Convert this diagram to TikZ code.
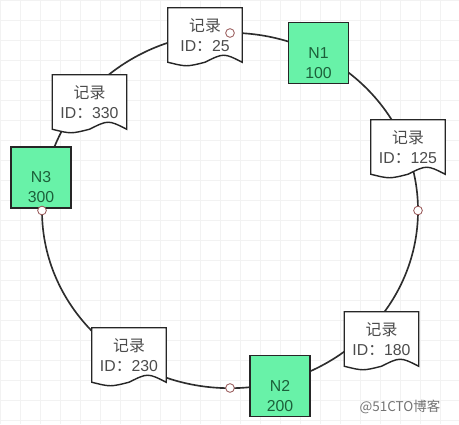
\documentclass[tikz,border=0pt]{standalone}
\usepackage{fontspec}
\newfontfamily\cjk{Noto Sans CJK SC}
\newfontfamily\latin{Liberation Sans}
\newcommand{\rectext}[1]{{\cjk 记录}\\ID{\cjk ：}#1}
\pgfdeclarelayer{background}
\pgfsetlayers{background,main}
\definecolor{nfill}{RGB}{104,242,168}
\definecolor{ntextc}{RGB}{28,96,58}
\definecolor{ringc}{RGB}{45,45,45}
\definecolor{dotc}{RGB}{150,85,85}
\tikzset{
  record/.style={minimum width=2.22cm,minimum height=1.62cm,align=center,
    inner sep=0pt,text=black!70,font=\latin\fontsize{13.5}{17}\selectfont},
  docline/.style={draw=black!85,fill=white,line width=1.2pt},
  nbox/.style={draw=black!85,fill=nfill,line width=1.3pt,minimum width=1.8cm,
    minimum height=1.83cm},
  ntext/.style={align=center,yshift=-0.3cm,text=ntextc,font=\latin\fontsize{13.5}{17}\selectfont},
  ringdot/.style={draw=dotc,fill=white,line width=0.7pt}
}
\begin{document}
\begin{tikzpicture}[x=0.03cm,y=-0.03cm]
\useasboundingbox (0,0) rectangle (459,424);
% records on the ring
\node[record] (r25)  at (205,35)    {\rectext{25}};
\node[record] (r125) at (408,147)   {\rectext{125}};
\node[record] (r180) at (381.5,339) {\rectext{180}};
\node[record] (r230) at (129,355)   {\rectext{230}};
\node[record] (r330) at (89.5,102)  {\rectext{330}};
% server nodes
\node[nbox,label={[ntext]center:N1\\100}] (n1) at (318.5,53) {};
\node[nbox,label={[ntext]center:N2\\200}] (n2) at (280,386) {};
\node[nbox,label={[ntext]center:N3\\300}] (n3) at (41,177.5) {};
\begin{pgfonlayer}{background}
  \fill[white] (0,0) rectangle (459,424);
  \draw[black!5,step=0.6cm] (0,0) grid (459,424);
  \draw[ringc,line width=1.4pt] (230,210.5) ellipse [x radius=5.64cm,y radius=5.33cm];
  \foreach \r in {r25,r125,r180,r230,r330}
    \path[docline] (\r.north west) -- (\r.north east) -- (\r.south east)
      .. controls +(-0.555cm,0.28cm) .. (\r.south)
      .. controls +(-0.555cm,-0.14cm) .. (\r.south west) -- cycle;
\end{pgfonlayer}
\foreach \p in {(230,33),(418,210.5),(230,388),(42,210.5)}
  \draw[ringdot] \p circle (0.13cm);
\node[text=black!55,font=\cjk\fontsize{11.5}{13}\selectfont] (mark) at (400,407) {@51CTO博客};
\end{tikzpicture}
\end{document}
